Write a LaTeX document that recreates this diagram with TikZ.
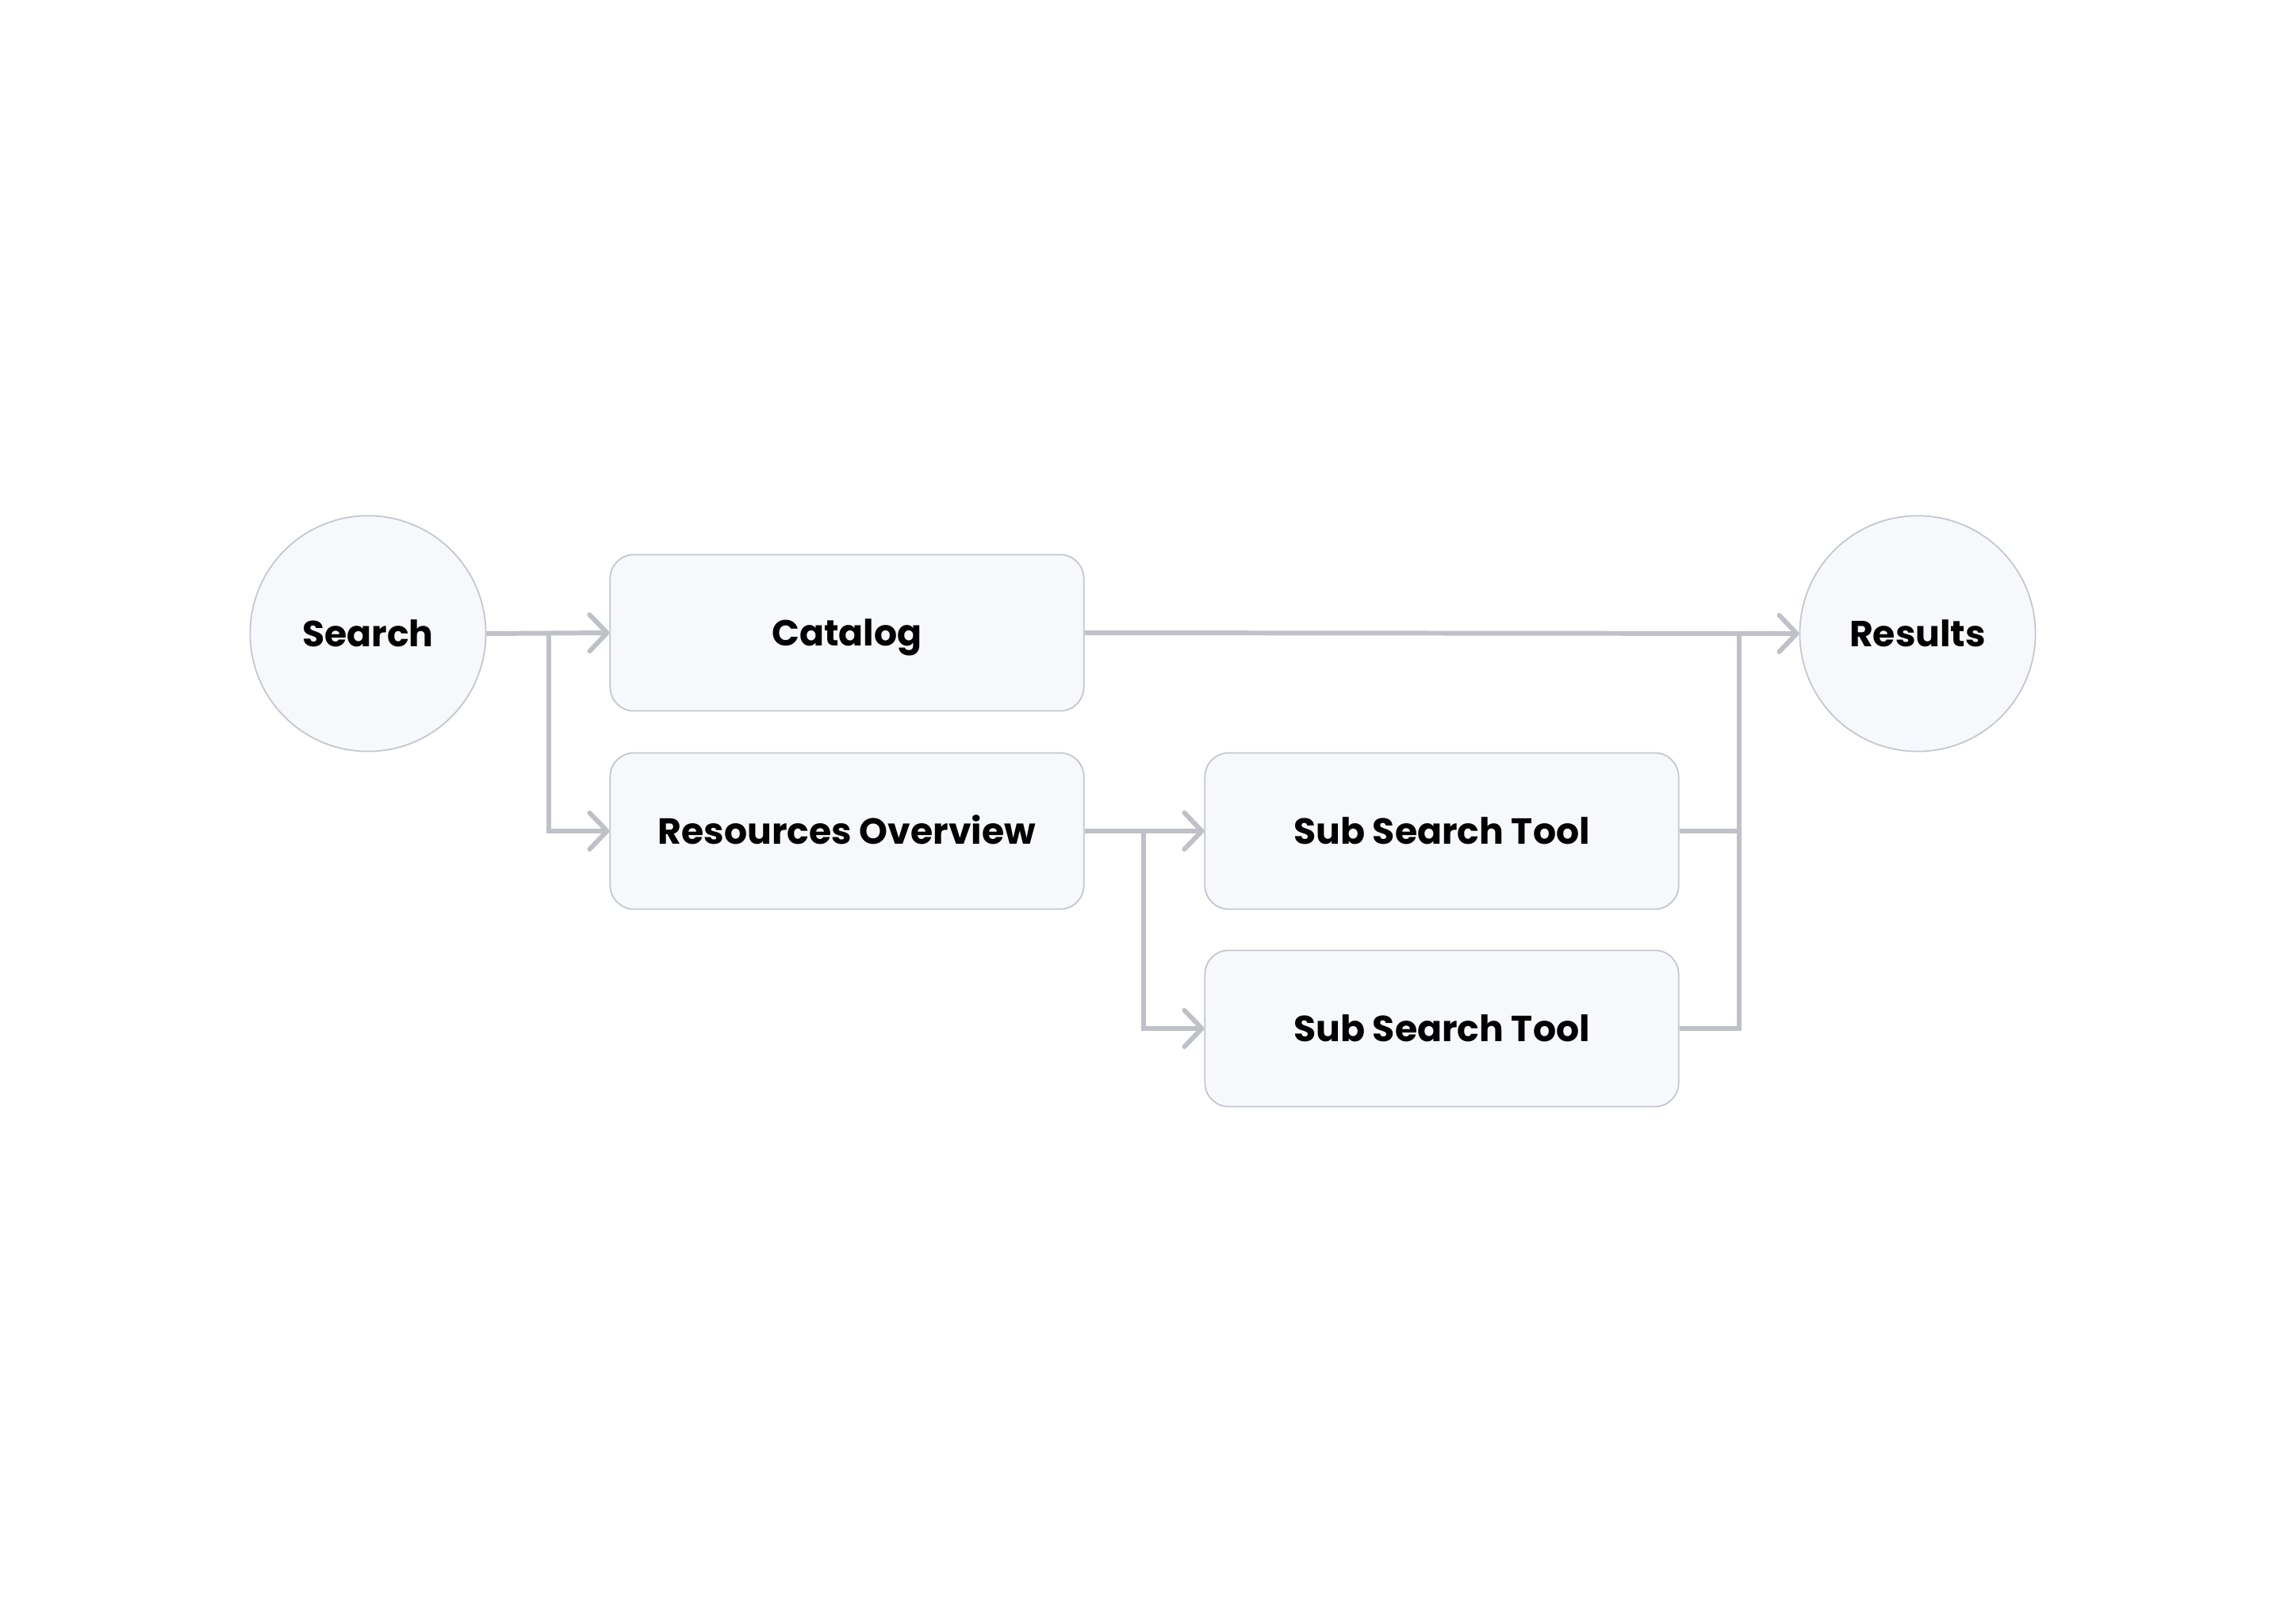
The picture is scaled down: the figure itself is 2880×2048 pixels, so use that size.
\documentclass[tikz,border=0pt]{standalone}
\usepackage{fontspec}
\setmainfont{Poppins}
\usetikzlibrary{arrows.meta}
\definecolor{boxfill}{HTML}{F7F8FC}
\definecolor{boxline}{HTML}{C4C6CE}
\definecolor{wire}{HTML}{BFC1C9}
\tikzset{
  px/.style={x=0.01cm,y=-0.01cm},
  labeltext/.style={font=\fontsize{13}{15}\selectfont\bfseries, text height=0.95em, text depth=0pt},
  roundbox/.style={draw=boxline, fill=boxfill, line width=0.5pt, rounded corners=0.3cm,
    minimum width=5.97cm, minimum height=1.97cm, inner sep=0pt, labeltext},
  endpoint/.style={draw=boxline, fill=boxfill, line width=0.5pt, circle,
    minimum size=2.97cm, inner sep=0pt, labeltext},
  wireline/.style={draw=wire, line width=1.7pt},
  wirearrow/.style={wireline, -{Straight Barb[length=2.2mm,width=4.6mm,round]}},
}
\begin{document}
\begin{tikzpicture}[px]
\useasboundingbox (0,0) rectangle (2880,2048);
\node[endpoint] (search) at (464,799) {Search};
\node[roundbox] (catalog) at (1068,798) {Catalog};
\node[roundbox] (resources) at (1068,1048) {Resources Overview};
\node[roundbox] (sub1) at (1818,1048) {Sub Search Tool};
\node[roundbox] (sub2) at (1818,1297) {Sub Search Tool};
\node[endpoint] (results) at (2418,799) {Results};
\coordinate (split1) at (692,799);
\coordinate (split2) at (1442,1048);
\coordinate (mergetop) at (2193,799);
\coordinate (merge1) at (2193,1048);
\coordinate (merge2) at (2193,1297);
% Search branch
\draw[wirearrow] (search.east) -- (catalog.west);
\draw[wirearrow] (split1) |- (resources.west);
% Catalog to results
\draw[wirearrow] (catalog.east) -- (results.west);
% Resources branch
\draw[wirearrow] (resources.east) -- (sub1.west);
\draw[wirearrow] (split2) |- (sub2.west);
% merge
\draw[wireline] (sub1.east) -- (merge1);
\draw[wireline] (sub2.east) -- (merge2) -- (mergetop);
\end{tikzpicture}
\end{document}
